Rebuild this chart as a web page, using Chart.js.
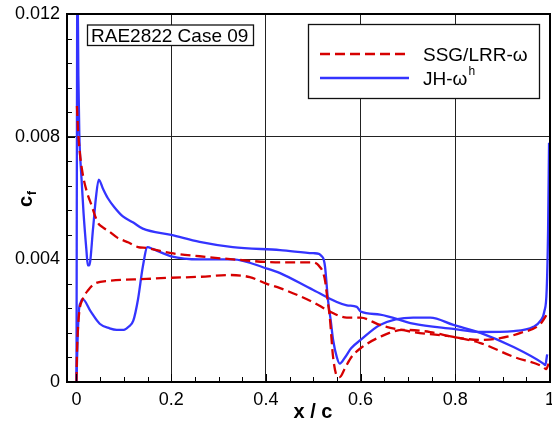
<!DOCTYPE html>
<html><head><meta charset="utf-8">
<script src="https://cdn.jsdelivr.net/npm/chart.js@4.4.0/dist/chart.umd.min.js"></script>
<style>html,body{margin:0;padding:0;background:#fff}canvas{display:block}</style>
</head><body>
<canvas id="c" width="552" height="425"></canvas>
<script>
// ---- tick labels ----
const xTicks = [0, 0.2, 0.4, 0.6, 0.8, 1];
const xTickLabels = ['0', '0.2', '0.4', '0.6', '0.8', '1'];
const yTicks = [0, 0.004, 0.008, 0.012];
const yTickLabels = ['0', '0.004', '0.008', '0.012'];
const seriesNames = ['SSG/LRR-ω', 'JH-ω'];
const titleText = 'RAE2822 Case 09';

// ---- SSG/LRR-omega, upper branch ----
const ssgUpX = [0.001,0.003,0.007,0.013,0.022,0.031,0.045,0.055,0.07,0.087,0.11,0.13,0.148,0.2,0.26,0.33,0.43,0.5,0.508,0.514,0.52,0.525,0.53,0.535,0.542,0.55,0.556,0.567,0.58,0.6,0.641,0.69,0.747,0.796,0.853,0.895,0.938,0.98,0.997];
const ssgUpY = [0.0090,0.0083,0.0075,0.0068,0.0062,0.0058,0.0052,0.00505,0.0049,0.0047,0.00455,0.0044,0.00437,0.0042,0.0041,0.0040,0.0039,0.0039,0.00385,0.00375,0.0036,0.0033,0.0027,0.0021,0.0008,0.0002,0.00016,0.00045,0.0008,0.0011,0.00147,0.0017,0.00163,0.00147,0.00137,0.00143,0.0016,0.0019,0.0023];
// ---- SSG/LRR-omega, lower branch ----
const ssgLoX = [0.0,0.001,0.003,0.006,0.013,0.025,0.038,0.07,0.148,0.2,0.26,0.324,0.366,0.402,0.43,0.5,0.535,0.571,0.6,0.641,0.711,0.796,0.853,0.923,0.986,0.992,0.997];
const ssgLoY = [0.0,0.0009,0.0017,0.0023,0.0027,0.0030,0.0032,0.0033,0.00336,0.0034,0.00343,0.00349,0.00342,0.0032,0.00306,0.0026,0.0023,0.0021,0.0021,0.00186,0.00163,0.00147,0.00127,0.00082,0.00049,0.00042,0.0006];
// ---- JH-omega^h, upper branch ----
const jhUpX = [0.0,0.002,0.004,0.006,0.01,0.015,0.021,0.024,0.027,0.035,0.041,0.047,0.056,0.066,0.08,0.098,0.12,0.14,0.2,0.26,0.33,0.43,0.5,0.512,0.518,0.522,0.525,0.531,0.537,0.542,0.55,0.556,0.567,0.58,0.6,0.641,0.711,0.747,0.796,0.853,0.923,0.986,0.99,0.994];
const jhUpY = [0.0,0.0135,0.0100,0.0081,0.0068,0.0055,0.0043,0.0038,0.0038,0.0050,0.0060,0.0066,0.0063,0.0060,0.0057,0.0054,0.0052,0.0050,0.0048,0.00457,0.0044,0.0043,0.0042,0.00418,0.0041,0.0040,0.00375,0.0027,0.0020,0.00137,0.0008,0.0006,0.0008,0.0011,0.00137,0.00186,0.0021,0.0021,0.00186,0.0016,0.00114,0.0006,0.00055,0.0009];
// ---- JH-omega^h, lower branch ----
const jhLoX = [0.0,0.002,0.005,0.009,0.013,0.03,0.049,0.07,0.085,0.1,0.11,0.12,0.13,0.14,0.15,0.161,0.2,0.26,0.33,0.402,0.43,0.5,0.571,0.592,0.6,0.641,0.711,0.796,0.853,0.923,0.965,0.98,0.988,0.993,0.996,0.998];
const jhLoY = [0.0,0.0012,0.0023,0.0026,0.0027,0.0023,0.0019,0.00175,0.0017,0.0017,0.0018,0.0020,0.0027,0.00375,0.0044,0.00434,0.0041,0.0040,0.0040,0.0037,0.00355,0.0030,0.0025,0.00245,0.0023,0.0022,0.0019,0.00173,0.00163,0.00166,0.0018,0.0020,0.0023,0.0030,0.0050,0.0078];

const RED = 'rgb(214,0,0)';
const BLUE = 'rgb(52,52,255)';
const DASH = [10, 5];
const FONT = '"Liberation Sans", Arial, Helvetica, sans-serif';

function pts(xs, ys) { return xs.map((x, i) => ({ x: x, y: ys[i] })); }

function ds(label, xs, ys, color, dash) {
  return {
    label: label, data: pts(xs, ys), borderColor: color, backgroundColor: color,
    borderWidth: 2.3, borderDash: dash || [], pointRadius: 0, fill: false,
    cubicInterpolationMode: 'monotone', showLine: true
  };
}

const decor = {
  id: 'decor',
  afterDraw(chart) {
    const ctx = chart.ctx, a = chart.chartArea, xs = chart.scales.x, ys = chart.scales.y;
    ctx.save();
    // inward ticks
    ctx.strokeStyle = '#000'; ctx.lineWidth = 1;
    ctx.beginPath();
    for (let i = 0; i <= 20; i++) {
      const v = i * 0.05;
      const px = Math.round(xs.getPixelForValue(v)) + 0.5;
      const L = (i % 4 === 0) ? 8 : 5;
      ctx.moveTo(px, a.bottom); ctx.lineTo(px, a.bottom - L);
    }
    for (let i = 0; i <= 15; i++) {
      const v = i * 0.0008;
      const py = Math.round(ys.getPixelForValue(v)) + 0.5;
      const L = (i % 5 === 0) ? 8 : 5;
      ctx.moveTo(a.left, py); ctx.lineTo(a.left + L, py);
    }
    ctx.stroke();
    // frame
    ctx.lineWidth = 2; ctx.strokeStyle = '#000';
    ctx.strokeRect(a.left, a.top, a.right - a.left, a.bottom - a.top);

    // title box
    ctx.fillStyle = '#fff';
    ctx.fillRect(87.5, 25, 166, 20.5);
    ctx.lineWidth = 1.3; ctx.strokeStyle = '#111';
    ctx.strokeRect(87.5, 25, 166, 20.5);
    ctx.fillStyle = '#000';
    ctx.font = '19px ' + FONT;
    ctx.textBaseline = 'alphabetic'; ctx.textAlign = 'left';
    ctx.fillText(titleText, 91, 42);

    // legend box
    ctx.fillStyle = '#fff';
    ctx.fillRect(308.5, 24.5, 231, 74);
    ctx.lineWidth = 1.3; ctx.strokeStyle = '#111';
    ctx.strokeRect(308.5, 24.5, 231, 74);
    const d = chart.data.datasets;
    ctx.lineWidth = 2.3;
    ctx.strokeStyle = d[0].borderColor; ctx.setLineDash(DASH);
    ctx.beginPath(); ctx.moveTo(320, 54); ctx.lineTo(409, 54); ctx.stroke();
    ctx.setLineDash([]);
    ctx.strokeStyle = d[2].borderColor;
    ctx.beginPath(); ctx.moveTo(320, 78); ctx.lineTo(409, 78); ctx.stroke();
    ctx.fillStyle = '#000';
    ctx.font = '19px ' + FONT;
    ctx.fillText(seriesNames[0], 423, 61);
    ctx.fillText(seriesNames[1], 423, 85);
    const w = ctx.measureText(seriesNames[1]).width;
    ctx.font = '12px ' + FONT;
    ctx.fillText('h', 423 + w + 1, 75);

    // axis titles
    ctx.font = 'bold 20px ' + FONT;
    ctx.textAlign = 'center';
    ctx.fillText('x / c', 313, 418);
    ctx.translate(32, 207);
    ctx.rotate(-Math.PI / 2);
    ctx.textAlign = 'left';
    ctx.font = 'bold 20px ' + FONT;
    ctx.fillText('c', 0, 0);
    const cw = ctx.measureText('c').width;
    ctx.font = 'bold 12px ' + FONT;
    ctx.fillText('f', cw + 1, 4);
    ctx.restore();
  }
};

new Chart(document.getElementById('c'), {
  type: 'scatter',
  data: {
    datasets: [
      ds(seriesNames[0], ssgUpX, ssgUpY, RED, DASH),
      ds(seriesNames[0], ssgLoX, ssgLoY, RED, DASH),
      ds(seriesNames[1], jhUpX, jhUpY, BLUE),
      ds(seriesNames[1], jhLoX, jhLoY, BLUE)
    ]
  },
  options: {
    responsive: false, animation: false, devicePixelRatio: 1,
    layout: { padding: { top: 14, right: 2, left: 0, bottom: 0 } },
    plugins: { legend: { display: false }, tooltip: { enabled: false }, title: { display: false } },
    scales: {
      x: {
        type: 'linear', min: -0.02, max: 1.0,
        afterBuildTicks: s => { s.ticks = xTicks.map(v => ({ value: v })); },
        afterFit: s => { s.height = 43; s.paddingLeft = 0; s.paddingRight = 0; },
        ticks: {
          autoSkip: false, maxRotation: 0, padding: 7, color: '#000',
          font: { family: FONT, size: 18 },
          callback: (v) => { const i = xTicks.findIndex(t => Math.abs(t - v) < 1e-9); return i >= 0 ? xTickLabels[i] : ''; }
        },
        grid: {
          drawTicks: false, lineWidth: 1,
          color: c => (c.tick && (Math.abs(c.tick.value) < 1e-9 || Math.abs(c.tick.value - 1) < 1e-9)) ? 'rgba(0,0,0,0)' : '#222'
        },
        border: { display: false }
      },
      y: {
        type: 'linear', min: 0, max: 0.012,
        afterBuildTicks: s => { s.ticks = yTicks.map(v => ({ value: v })); },
        afterFit: s => { s.width = 67; s.paddingTop = 0; s.paddingBottom = 0; },
        ticks: {
          autoSkip: false, padding: 7, color: '#000',
          font: { family: FONT, size: 18 },
          callback: (v) => { const i = yTicks.findIndex(t => Math.abs(t - v) < 1e-12); return i >= 0 ? yTickLabels[i] : ''; }
        },
        grid: {
          drawTicks: false, lineWidth: 1,
          color: c => (c.tick && (Math.abs(c.tick.value) < 1e-12 || Math.abs(c.tick.value - 0.012) < 1e-12)) ? 'rgba(0,0,0,0)' : '#222'
        },
        border: { display: false }
      }
    }
  },
  plugins: [decor]
});
</script>
</body></html>
